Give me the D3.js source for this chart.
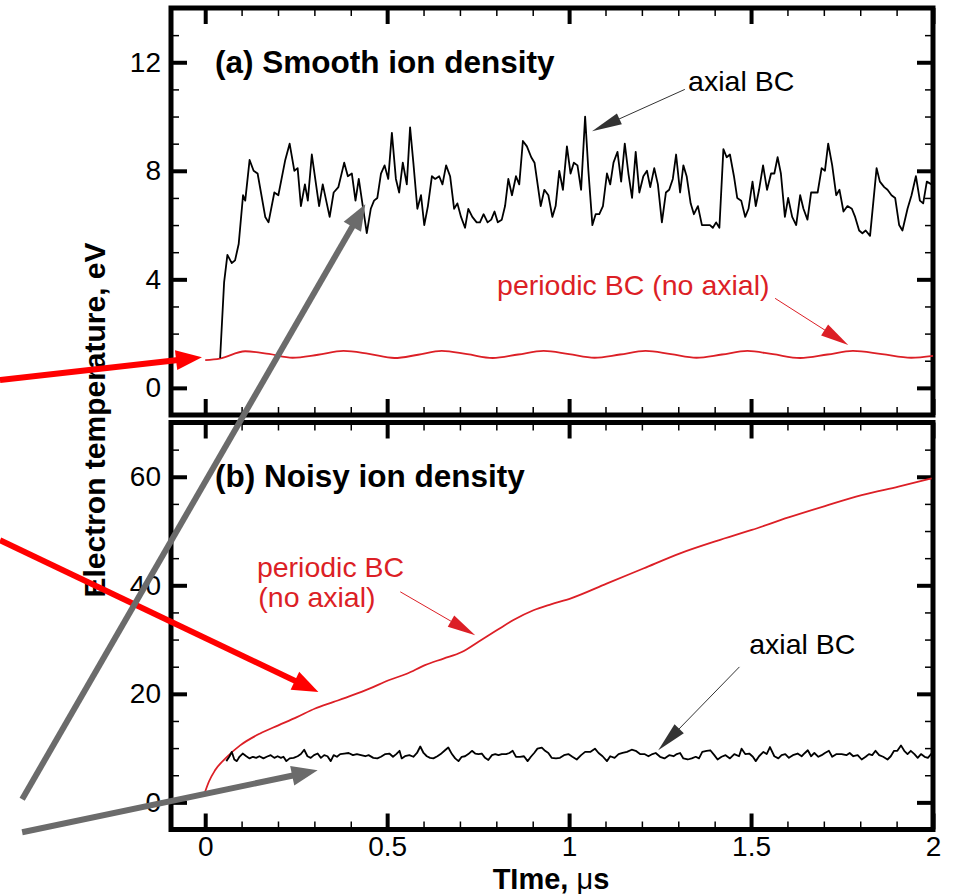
<!DOCTYPE html>
<html>
<head>
<meta charset="utf-8">
<script src="https://cdn.jsdelivr.net/npm/d3@7"></script>
<style>
body { margin: 0; background: #fff; }
svg { display: block; font-family: "Liberation Sans", Arial, Helvetica, sans-serif; }
</style>
</head>
<body>
<svg id="chart" width="956" height="894"></svg>
<script>
// (t in microseconds, Te in eV)
var topAxial = [[0.041,1.1],[0.052,3.9],[0.061,4.9],[0.073,4.6],[0.082,4.7],[0.092,5.3],[0.104,7.1],[0.110,6.9],[0.122,8.4],[0.133,8.0],[0.144,7.9],[0.165,6.3],[0.174,6.1],[0.190,7.2],[0.201,7.1],[0.220,8.4],[0.232,9.0],[0.245,8.0],[0.254,8.1],[0.263,6.7],[0.274,7.5],[0.282,6.9],[0.293,8.6],[0.313,6.7],[0.323,7.5],[0.342,6.3],[0.353,7.2],[0.366,7.4],[0.382,8.3],[0.392,7.8],[0.403,7.9],[0.413,6.9],[0.422,7.7],[0.433,6.7],[0.444,5.7],[0.455,6.6],[0.464,6.9],[0.473,7.0],[0.483,7.9],[0.493,8.2],[0.503,7.7],[0.513,9.4],[0.524,7.7],[0.533,7.2],[0.543,8.3],[0.554,7.5],[0.563,9.6],[0.572,8.3],[0.583,6.6],[0.593,7.1],[0.602,6.0],[0.612,6.7],[0.623,7.8],[0.632,7.7],[0.643,7.8],[0.652,7.5],[0.662,8.2],[0.673,7.8],[0.684,6.6],[0.693,6.8],[0.703,6.3],[0.714,5.9],[0.723,6.6],[0.734,6.3],[0.746,6.1],[0.755,6.1],[0.765,6.4],[0.776,6.1],[0.786,6.2],[0.795,6.5],[0.804,6.1],[0.815,6.2],[0.824,6.7],[0.833,7.7],[0.843,7.1],[0.854,7.8],[0.863,7.5],[0.873,9.1],[0.884,8.9],[0.896,8.5],[0.905,8.3],[0.922,6.7],[0.932,7.3],[0.943,7.1],[0.954,6.3],[0.963,6.7],[0.973,8.0],[0.983,7.3],[0.994,8.9],[1.004,7.9],[1.013,8.3],[1.023,8.2],[1.033,7.3],[1.044,10.0],[1.053,8.0],[1.064,6.0],[1.073,6.4],[1.083,6.4],[1.093,6.7],[1.104,7.9],[1.113,7.5],[1.122,8.3],[1.133,8.7],[1.143,7.6],[1.153,9.0],[1.163,7.9],[1.173,7.0],[1.183,8.7],[1.193,7.2],[1.204,7.8],[1.214,8.0],[1.223,7.4],[1.234,8.1],[1.244,7.5],[1.255,6.1],[1.266,7.2],[1.275,7.3],[1.285,7.7],[1.294,8.6],[1.305,7.2],[1.314,8.2],[1.323,7.8],[1.334,6.8],[1.343,6.4],[1.354,6.7],[1.365,6.0],[1.378,6.0],[1.387,6.0],[1.395,5.9],[1.404,6.1],[1.413,5.9],[1.424,8.8],[1.433,8.5],[1.442,8.6],[1.453,7.8],[1.462,7.0],[1.473,6.9],[1.484,6.3],[1.493,6.6],[1.504,7.6],[1.513,6.7],[1.522,7.3],[1.533,8.2],[1.544,7.3],[1.555,7.9],[1.564,7.9],[1.573,8.5],[1.582,7.9],[1.593,6.3],[1.602,7.0],[1.613,6.3],[1.624,6.0],[1.635,7.1],[1.644,6.6],[1.655,6.2],[1.665,7.2],[1.683,7.2],[1.694,8.1],[1.703,8.0],[1.712,9.0],[1.723,8.2],[1.734,7.1],[1.743,7.3],[1.754,6.5],[1.765,6.7],[1.777,6.6],[1.786,6.3],[1.797,5.8],[1.806,5.7],[1.815,5.8],[1.827,5.6],[1.845,8.1],[1.854,7.6],[1.866,7.4],[1.875,7.3],[1.886,7.1],[1.896,7.0],[1.907,6.0],[1.916,5.8],[1.930,6.6],[1.941,7.1],[1.953,7.8],[1.964,6.9],[1.973,6.8],[1.983,7.6],[1.996,7.5]];

var topPeriodic = [[0,1.02],[0.04,1.08],[0.11,1.35],[0.175,1.25],[0.24,1.11],[0.31,1.22],[0.38,1.36],[0.45,1.25],[0.52,1.1],[0.585,1.22],[0.65,1.36],[0.72,1.24],[0.79,1.1],[0.86,1.23],[0.93,1.36],[1.0,1.24],[1.07,1.11],[1.14,1.23],[1.21,1.36],[1.28,1.24],[1.35,1.11],[1.42,1.23],[1.49,1.36],[1.56,1.24],[1.635,1.1],[1.71,1.23],[1.78,1.36],[1.86,1.24],[1.94,1.11],[2.0,1.18]];

var botAxial = [[0.058,7.6],[0.067,8.5],[0.073,9.3],[0.080,7.9],[0.087,7.6],[0.094,8.4],[0.103,9.0],[0.113,8.5],[0.122,8.1],[0.131,8.4],[0.140,8.2],[0.149,8.5],[0.160,8.1],[0.169,8.4],[0.180,8.7],[0.190,8.2],[0.199,8.5],[0.208,8.2],[0.215,8.4],[0.223,7.6],[0.232,8.1],[0.243,8.2],[0.254,8.5],[0.263,8.9],[0.272,9.7],[0.281,8.5],[0.290,8.2],[0.299,8.7],[0.309,9.0],[0.318,8.2],[0.327,8.7],[0.336,8.5],[0.345,7.6],[0.353,8.7],[0.362,8.4],[0.371,8.9],[0.382,9.0],[0.394,9.1],[0.406,8.7],[0.417,8.9],[0.428,8.7],[0.440,8.5],[0.449,8.7],[0.462,8.2],[0.473,8.1],[0.483,8.4],[0.495,8.9],[0.506,9.0],[0.516,8.4],[0.525,8.9],[0.534,9.5],[0.540,8.1],[0.549,8.5],[0.561,8.7],[0.572,8.4],[0.582,9.1],[0.591,10.3],[0.600,9.1],[0.609,8.5],[0.618,8.2],[0.627,8.1],[0.638,8.5],[0.647,8.9],[0.659,9.6],[0.668,10.1],[0.678,8.9],[0.687,8.1],[0.696,7.6],[0.705,8.4],[0.714,8.5],[0.723,8.9],[0.733,9.5],[0.742,9.0],[0.751,8.9],[0.760,9.0],[0.769,8.2],[0.778,7.8],[0.788,8.7],[0.797,8.9],[0.806,8.7],[0.815,8.9],[0.827,8.9],[0.836,9.1],[0.845,9.5],[0.854,8.4],[0.865,8.4],[0.876,8.5],[0.886,7.6],[0.895,8.4],[0.904,9.1],[0.913,9.9],[0.925,10.1],[0.934,9.5],[0.943,9.1],[0.952,8.2],[0.964,8.1],[0.975,8.2],[0.986,8.7],[0.998,8.9],[1.009,8.4],[1.021,7.9],[1.033,8.7],[1.044,9.3],[1.058,9.3],[1.071,9.9],[1.081,9.1],[1.092,8.5],[1.104,7.6],[1.113,8.5],[1.125,8.2],[1.136,8.9],[1.147,9.1],[1.159,9.3],[1.172,9.7],[1.183,9.5],[1.195,8.9],[1.207,8.9],[1.218,8.5],[1.229,8.9],[1.238,9.1],[1.250,8.4],[1.262,8.1],[1.275,8.7],[1.287,8.5],[1.296,8.9],[1.305,9.1],[1.314,8.1],[1.326,7.9],[1.337,8.1],[1.348,8.4],[1.357,8.1],[1.366,9.3],[1.378,9.5],[1.388,9.6],[1.399,8.7],[1.408,7.9],[1.419,8.4],[1.430,8.7],[1.442,8.1],[1.454,8.9],[1.467,8.5],[1.474,9.9],[1.484,8.9],[1.495,9.0],[1.505,8.4],[1.513,7.6],[1.522,8.5],[1.534,9.3],[1.543,8.9],[1.552,10.2],[1.564,8.5],[1.575,8.1],[1.584,8.7],[1.594,8.9],[1.604,8.2],[1.615,8.7],[1.628,9.0],[1.639,8.5],[1.648,9.1],[1.656,9.6],[1.665,8.5],[1.674,9.1],[1.685,8.4],[1.694,8.7],[1.703,9.1],[1.714,9.5],[1.723,8.4],[1.735,8.9],[1.749,8.9],[1.762,8.7],[1.771,9.1],[1.781,8.5],[1.793,8.7],[1.804,7.9],[1.815,8.4],[1.824,8.9],[1.833,8.7],[1.842,9.5],[1.852,8.7],[1.863,8.4],[1.875,7.9],[1.884,8.5],[1.893,9.5],[1.902,9.5],[1.912,10.5],[1.921,9.5],[1.930,8.9],[1.939,9.5],[1.949,8.9],[1.958,8.2],[1.967,8.9],[1.977,8.4],[1.986,8.2],[1.996,9.0]];

var botPeriodic = [[0,2.0],[0.01,3.8],[0.027,5.9],[0.06,8.4],[0.096,10.5],[0.151,12.7],[0.201,14.2],[0.252,15.7],[0.302,17.3],[0.353,18.5],[0.403,19.7],[0.453,21.0],[0.504,22.5],[0.554,23.7],[0.604,25.3],[0.655,26.5],[0.705,27.7],[0.751,29.6],[0.801,31.7],[0.847,33.6],[0.902,35.4],[0.95,36.5],[1.005,37.6],[1.103,40.3],[1.204,43.1],[1.305,45.9],[1.406,48.2],[1.502,50.2],[1.603,52.5],[1.703,54.6],[1.804,56.6],[1.905,58.2],[1.996,59.7]];

var xMajor = [0, 0.5, 1, 1.5, 2];
var topMajor = [0, 4, 8, 12];
var botMajor = [0, 20, 40, 60];

var svg = d3.select("#chart");
var RED = "#dc1f26";

var x = d3.scaleLinear().domain([-0.094, 2]).range([171, 933]);
var yTop = d3.scaleLinear().domain([-1, 14]).range([415, 8]);
var yBot = d3.scaleLinear().domain([-5, 70]).range([829.5, 422.5]);

var xMinor = d3.range(0.1, 2, 0.1).filter(function(d){ return Math.abs(d*2 - Math.round(d*2)) > 1e-6; });

function drawPanel(y, yMajor, yMinorStep, showX){
    var g = svg.append("g");
    var yMinor = d3.range(y.domain()[0], y.domain()[1] + 0.001, yMinorStep).filter(function(d){ return yMajor.indexOf(d) < 0; });
    var x0 = x.range()[0], x1 = x.range()[1], y0 = y.range()[1], y1 = y.range()[0];

    function axis(gen, tx, ty, vals, size, w, labels, pad){
        var a = g.append("g").attr("transform", "translate(" + tx + "," + ty + ")")
            .call(gen.tickValues(vals).tickSize(-size).tickPadding(pad || 0)
                .tickFormat(labels ? d3.format("") : ""));
        a.select(".domain").remove();
        a.selectAll("line").attr("stroke", "#000").attr("stroke-width", w);
        a.selectAll("text").attr("font-size", 28).attr("fill", "#000").attr("font-family", "Liberation Sans, Arial, sans-serif");
    }
    axis(d3.axisLeft(y), x0, 0, yMajor, 16, 4, true, 10);
    axis(d3.axisLeft(y), x0, 0, yMinor, 8, 1.5, false);
    axis(d3.axisRight(y), x1, 0, yMajor, 16, 4, false);
    axis(d3.axisRight(y), x1, 0, yMinor, 8, 1.5, false);
    axis(d3.axisTop(x), 0, y0, xMajor, 16, 4, false);
    axis(d3.axisTop(x), 0, y0, xMinor, 8, 1.5, false);
    axis(d3.axisBottom(x), 0, y1, xMajor, 16, 4, showX, 7);
    axis(d3.axisBottom(x), 0, y1, xMinor, 8, 1.5, false);

    g.append("rect").attr("x", x0).attr("y", y0).attr("width", x1 - x0).attr("height", y1 - y0)
        .attr("fill", "none").attr("stroke", "#000").attr("stroke-width", 5);
    return g;
}

function drawLine(data, y, color, w, curve){
    svg.append("path").datum(data)
        .attr("fill", "none").attr("stroke", color).attr("stroke-width", w)
        .attr("stroke-linejoin", "round")
        .attr("d", d3.line().x(function(d){ return x(d[0]); }).y(function(d){ return y(d[1]); }).curve(curve || d3.curveLinear));
}

// arrow from (a) to tip (b), both given in data coords of scale y
function arrow(y, a, b, color, w, headLen, headW){
    var x1 = x(a[0]), y1 = y(a[1]), x2 = x(b[0]), y2 = y(b[1]);
    var dx = x2 - x1, dy = y2 - y1, L = Math.sqrt(dx*dx + dy*dy);
    var ux = dx / L, uy = dy / L;
    var bx = x2 - ux * headLen, by = y2 - uy * headLen;
    svg.append("line").attr("x1", x1).attr("y1", y1).attr("x2", bx + ux * 2).attr("y2", by + uy * 2)
        .attr("stroke", color).attr("stroke-width", w);
    svg.append("polygon")
        .attr("points", [[x2, y2], [bx - uy * headW / 2, by + ux * headW / 2], [bx + uy * headW / 2, by - ux * headW / 2]].join(" "))
        .attr("fill", color);
}

function label(y, pos, txt, color, size, weight){
    svg.append("text").attr("x", x(pos[0])).attr("y", y(pos[1]))
        .attr("font-size", size).attr("font-weight", weight || "normal").attr("fill", color).text(txt);
}

drawPanel(yTop, topMajor, 1, false);
drawPanel(yBot, botMajor, 5, true);

drawLine(topPeriodic, yTop, RED, 1.8, d3.curveMonotoneX);
drawLine(topAxial, yTop, "#000", 1.8);
drawLine(botPeriodic, yBot, RED, 1.8, d3.curveMonotoneX);
drawLine(botAxial, yBot, "#000", 1.8);

// panel titles and annotations
label(yTop, [0.027, 11.6], "(a) Smooth ion density", "#000", 31.5, "bold");
label(yBot, [0.027, 58.2], "(b) Noisy ion density", "#000", 31.5, "bold");
label(yTop, [1.327, 10.93], "axial BC", "#000", 28.5);
arrow(yTop, [1.318, 11.0], [1.063, 9.46], "#333", 1, 30, 12);
label(yTop, [0.802, 3.42], "periodic BC (no axial)", RED, 28.5);
arrow(yTop, [1.566, 3.3], [1.767, 1.58], RED, 1, 28, 13);
label(yBot, [0.142, 41.6], "periodic BC", RED, 28.5);
label(yBot, [0.146, 36.0], "(no axial)", RED, 28.5);
arrow(yBot, [0.536, 38.8], [0.742, 30.8], RED, 1, 28, 13);
label(yBot, [1.495, 27.4], "axial BC", "#000", 28.5);
arrow(yBot, [1.468, 24.96], [1.245, 9.6], "#333", 1, 30, 13);

// axis titles
svg.append("text").attr("transform", "translate(105,420) rotate(-90)")
    .attr("text-anchor", "middle").attr("font-size", 30).attr("font-weight", "bold").attr("fill", "#000")
    .text("Electron temperature, eV");
var xt = svg.append("text").attr("x", 551).attr("y", 889).attr("text-anchor", "middle")
    .attr("font-size", 29).attr("font-weight", "bold").attr("fill", "#000");
xt.append("tspan").text("TIme, ");
xt.append("tspan").attr("font-weight", "normal").text("\u03bc");
xt.append("tspan").text("s");

// thick overlay arrows drawn on top
arrow(yTop, [-0.564, 0.29], [-0.009, 1.13], "#ff0000", 6, 26, 20);
arrow(yBot, [-0.564, 48.3], [0.311, 20.35], "#ff0000", 6, 26, 20);
arrow(yTop, [-0.503, -15.16], [0.44, 6.77], "#6b6b6b", 6, 26, 20);
arrow(yBot, [-0.503, -5.5], [0.309, 5.9], "#6b6b6b", 6, 26, 20);
</script>
</body>
</html>
